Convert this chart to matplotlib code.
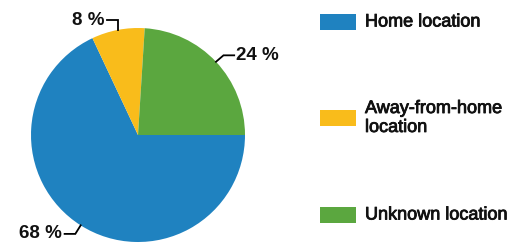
import numpy as np
import matplotlib.pyplot as plt
import matplotlib.patheffects as pe
from matplotlib.patches import Rectangle

plt.rcParams['font.family'] = ['Liberation Sans', 'DejaVu Sans']

categories = ["Home location", "Away-from-home\nlocation", "Unknown location"]
shares = [68, 8, 24]
colors = ["#1f82c0", "#f9bc1b", "#5ba73f"]

W, H = 526, 245
fig = plt.figure(figsize=(W / 100, H / 100), dpi=100)
# pie axes: centre ~ (138,135) px, radius ~107 px
ax = fig.add_axes([31 / W, 3 / H, 214 / W, 214 / H])
wedges, _ = ax.pie(shares, colors=colors, startangle=0, counterclock=False,
                   radius=1, wedgeprops=dict(linewidth=0))
ax.set_xlim(-1, 1)
ax.set_ylim(-1, 1)
ax.set_aspect('equal')
ax.axis('off')

# leader line elbows / ends (style offsets per label)
elbows = [(-0.05, -0.08), (0.0, 0.09), (0.07, 0.06)]
runs = [-0.10, -0.10, 0.10]
for w, v, (ex, ey), run in zip(wedges, shares, elbows, runs):
    mid = np.deg2rad((w.theta1 + w.theta2) / 2)
    x0, y0 = np.cos(mid), np.sin(mid)
    x1, y1 = x0 + ex, y0 + ey
    x2 = x1 + run
    ax.plot([x0, x1, x2], [y0, y1, y1], color='black', lw=1.3, clip_on=False,
            solid_joinstyle='miter')
    ha = 'right' if run < 0 else 'left'
    ax.text(x2 + (0.02 if run > 0 else -0.025), y1, f"{v} %", ha=ha, va='center',
            fontsize=13.5, fontweight='bold', color='#111111')

# legend drawn in pixel layout on the figure
rows_y = [22, 118, 215]
thick = [pe.withStroke(linewidth=0.6, foreground='#111111')]
for lab, c, yc in zip(categories, colors, rows_y):
    fig.add_artist(Rectangle((320 / W, (H - yc - 8) / H), 36 / W, 16 / H,
                             transform=fig.transFigure, color=c, lw=0))
    fig.text(365 / W, (H - yc) / H, lab, ha='left', va='center',
             fontsize=13, color='#111111', linespacing=1.15,
             path_effects=thick)

fig.savefig("out.png", dpi=100)
